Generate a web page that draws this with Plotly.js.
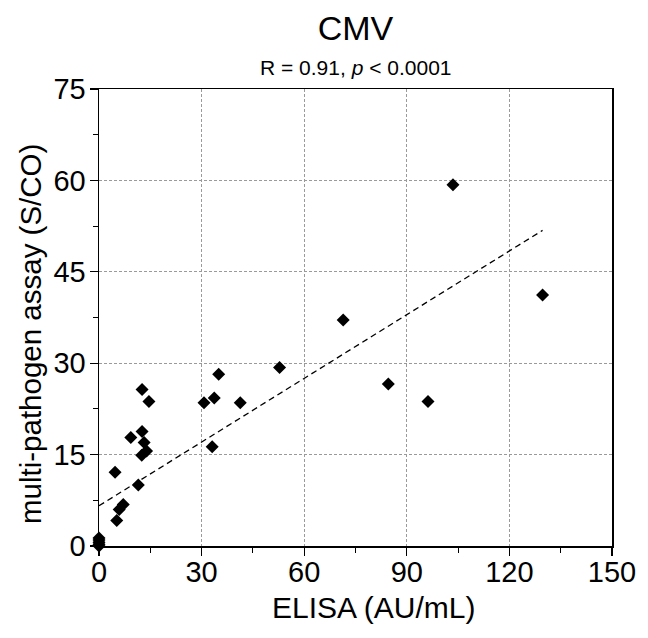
<!DOCTYPE html>
<html>
<head>
<meta charset="utf-8">
<script src="https://cdn.plot.ly/plotly-3.0.1.min.js"></script>
<style>html,body{margin:0;padding:0;background:#fff}#chart{width:648px;height:638px}</style>
</head>
<body>
<div id="chart"></div>
<script>
// ELISA (AU/mL) vs multi-pathogen assay (S/CO)
var elisaX = [0, 0, 0, 0, 0, 5.2, 5.9, 7.1, 4.7, 9.3, 11.5, 12.5, 13.9, 13.2, 12.6, 12.6, 14.6,
              30.7, 33.7, 35.0, 41.3, 33.1, 52.8, 71.4, 84.6, 96.2, 103.5, 129.7];
var assayY = [0, 0.3, 0.6, 1.0, 1.3, 4.2, 6.0, 6.8, 12.1, 17.8, 10.0, 14.9, 15.6, 17.0, 18.8, 25.7, 23.7,
              23.5, 24.3, 28.2, 23.5, 16.3, 29.3, 37.1, 26.6, 23.7, 59.3, 41.2];
// regression line
var fitX = [0, 129.7];
var fitY = [6.6, 51.8];
var xTicks = [0, 30, 60, 90, 120, 150];
var yTicks = [0, 15, 30, 45, 60, 75];
var titleText = 'CMV';
var subtitleText = 'R = 0.91, <i>p</i> < 0.0001';
var xTitle = 'ELISA (AU/mL)';
var yTitle = 'multi-pathogen assay (S/CO)';

var FONT = 'Liberation Sans, Arial, sans-serif';

var traces = [
  {
    x: fitX, y: fitY, type: 'scatter', mode: 'lines',
    line: {color: '#000', width: 1.3, dash: '6px,4px'},
    hoverinfo: 'skip', showlegend: false
  },
  {
    x: elisaX, y: assayY, type: 'scatter', mode: 'markers',
    marker: {symbol: 'diamond', size: 10, color: '#000'},
    cliponaxis: false, showlegend: false
  }
];

var axisCommon = {
  showline: true, linecolor: '#000', linewidth: 1.5, mirror: true,
  zeroline: false, showgrid: true, gridcolor: '#9a9a9a', gridwidth: 1, griddash: '3px,2px',
  ticks: 'outside', ticklen: 8, tickwidth: 1.2, tickcolor: '#000',
  tickfont: {family: FONT, size: 29, color: '#000'},
  fixedrange: true
};

var layout = {
  width: 648, height: 638,
  margin: {l: 99, r: 36, t: 89, b: 92, pad: 0},
  paper_bgcolor: '#fff', plot_bgcolor: '#fff',
  font: {family: FONT, color: '#000'},
  title: {
    text: titleText, font: {family: FONT, size: 34, color: '#000'},
    xref: 'paper', x: 0.5, xanchor: 'center',
    yref: 'container', y: 1 - 28 / 638, yanchor: 'middle'
  },
  annotations: [
    {
      text: subtitleText, xref: 'paper', yref: 'paper', x: 0.5, y: 1 + 22 / 457,
      xanchor: 'center', yanchor: 'middle', showarrow: false,
      font: {family: FONT, size: 21, color: '#000'}
    },
    {
      text: xTitle, xref: 'paper', yref: 'paper', x: (373 - 99) / 513, y: (546 - 607) / 457,
      xanchor: 'center', yanchor: 'middle', showarrow: false,
      font: {family: FONT, size: 30, color: '#000'}
    },
    {
      text: yTitle, xref: 'paper', yref: 'paper', x: (30 - 99) / 513, y: (546 - 334) / 457,
      xanchor: 'center', yanchor: 'middle', showarrow: false, textangle: -90,
      font: {family: FONT, size: 29.5, color: '#000'}
    }
  ],
  xaxis: Object.assign({}, axisCommon, {
    range: [0, 150], tickmode: 'array', tickvals: xTicks, ticktext: xTicks.map(String),
    ticklabelstandoff: -8,
    minor: {dtick: 15, tick0: 0, ticks: 'outside', ticklen: 5, tickcolor: '#000', tickwidth: 1, showgrid: false}
  }),
  yaxis: Object.assign({}, axisCommon, {
    range: [0, 75], tickmode: 'array', tickvals: yTicks, ticktext: yTicks.map(String),
    ticklabelstandoff: -2,
    minor: {dtick: 7.5, tick0: 0, ticks: 'outside', ticklen: 5, tickcolor: '#000', tickwidth: 1, showgrid: false}
  })
};

Plotly.newPlot('chart', traces, layout, {displayModeBar: false, staticPlot: true});
</script>
</body>
</html>
